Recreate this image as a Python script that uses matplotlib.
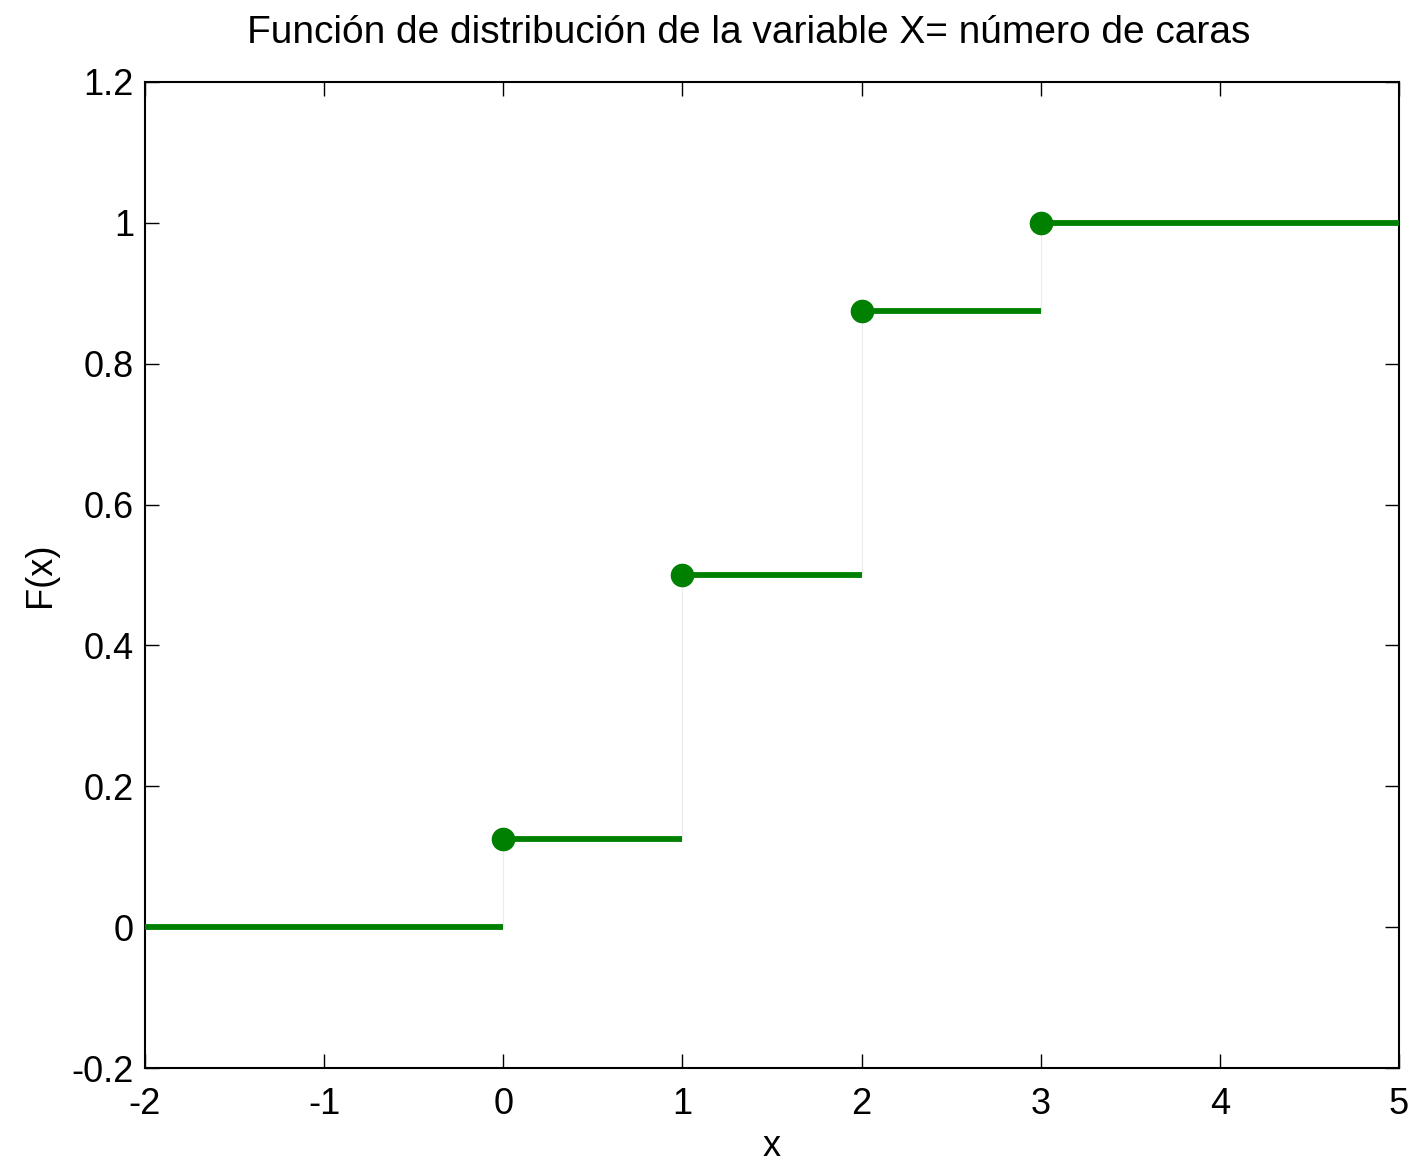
import matplotlib.pyplot as plt

# Datos: función de distribución de X = número de caras (3 lanzamientos)
x_saltos = [0, 1, 2, 3]
F_valores = [0.125, 0.5, 0.875, 1.0]
x_min, x_max = -2, 5

plt.rcParams['font.family'] = ['Liberation Sans', 'DejaVu Sans']
plt.rcParams['axes.unicode_minus'] = False

fig = plt.figure(figsize=(14.15, 11.68), dpi=100)
ax = fig.add_axes([0.1025, 0.0856, 0.8862, 0.8442])

verde = '#008000'

# Tramos horizontales
bordes = [x_min] + x_saltos + [x_max]
niveles = [0.0] + F_valores
for i in range(len(niveles)):
    ax.plot([bordes[i], bordes[i + 1]], [niveles[i], niveles[i]],
            color=verde, lw=4.2, solid_capstyle='butt', zorder=3)

# Saltos verticales (casi invisibles)
for i, xs in enumerate(x_saltos):
    ax.plot([xs, xs], [niveles[i], niveles[i + 1]], color='#ececec', lw=0.8, zorder=2)

# Puntos en los saltos
ax.plot(x_saltos, F_valores, 'o', color=verde, ms=16, zorder=4)

ax.set_xlim(x_min, x_max)
ax.set_ylim(-0.2, 1.2)
ax.set_xticks(range(-2, 6))
ax.set_yticks([-0.2, 0, 0.2, 0.4, 0.6, 0.8, 1, 1.2])
ax.set_yticklabels(['-0.2', '0', '0.2', '0.4', '0.6', '0.8', '1', '1.2'])
ax.tick_params(direction='in', length=10, width=1, labelsize=26, top=True, right=True)
ax.tick_params(axis='x', pad=14)
ax.tick_params(axis='y', pad=8)
for s in ax.spines.values():
    s.set_linewidth(1.5)

ax.set_title('Función de distribución de la variable X= número de caras',
             fontsize=28, pad=28, x=0.481)
ax.set_xlabel('x', fontsize=26, labelpad=5)
ax.set_ylabel('F(x)', fontsize=26, labelpad=10)

fig.savefig('out.png', dpi=100)
